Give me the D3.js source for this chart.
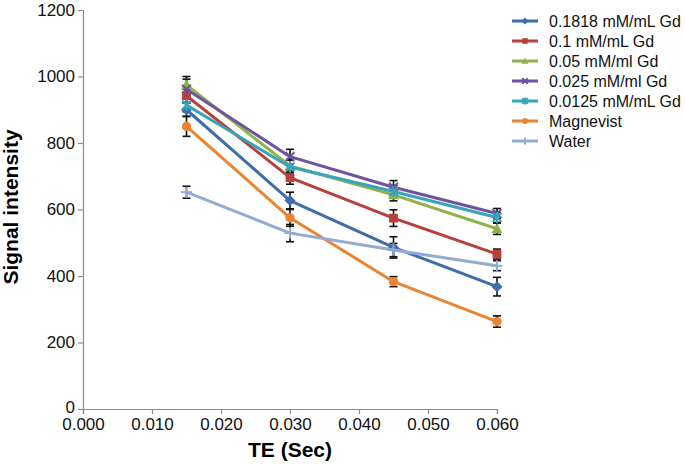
<!DOCTYPE html>
<html>
<head>
<meta charset="utf-8">
<script src="https://cdn.jsdelivr.net/npm/d3@7"></script>
<style>
  body { margin: 0; background: #fff; }
  text { font-family: "Liberation Sans", Arial, sans-serif; }
</style>
</head>
<body>
<div id="chart"></div>
<script>
// x values (TE, sec)
const teValues = [0.015, 0.030, 0.045, 0.060];

const seriesNames = ["0.1818 mM/mL Gd", "0.1 mM/mL Gd", "0.05 mM/ml Gd", "0.025 mM/ml Gd", "0.0125 mM/mL Gd", "Magnevist", "Water"];

// signal intensity
const gd01818 = [900, 627, 486, 368];
const gd01 = [942, 696, 574, 466];
const gd005 = [975, 731, 644, 542];
const gd0025 = [962, 759, 667, 588];
const gd00125 = [914, 728, 654, 576];
const magnevist = [850, 575, 383, 263];
const water = [652, 529, 478, 431];

// error bar half-widths
const err01818 = [20, 25, 32, 28];
const err01 = [20, 20, 25, 15];
const err005 = [25, 20, 18, 17];
const err0025 = [30, 22, 20, 15];
const err00125 = [20, 20, 18, 15];
const errMagnevist = [30, 25, 15, 17];
const errWater = [18, 26, 20, 15];

const xTicks = [0, 0.01, 0.02, 0.03, 0.04, 0.05, 0.06];
const yTicks = [0, 200, 400, 600, 800, 1000, 1200];

const colors = ["#3d6eaa", "#b8403c", "#8db34a", "#6f52a0", "#38a4bb", "#ea8430", "#92abd2"];
const markers = ["diamond", "square", "triangle", "cross", "asterisk", "circle", "plus"];

const values = [gd01818, gd01, gd005, gd0025, gd00125, magnevist, water];
const errors = [err01818, err01, err005, err0025, err00125, errMagnevist, errWater];

const series = seriesNames.map((name, i) => ({
    name: name,
    color: colors[i],
    marker: markers[i],
    points: teValues.map((t, j) => ({ x: t, y: values[i][j], e: errors[i][j] }))
}));

const width = 685, height = 465;

const svg = d3.select("#chart").append("svg")
    .attr("width", width)
    .attr("height", height);

const x = d3.scaleLinear().domain([0, 0.06]).range([83, 497]);
const y = d3.scaleLinear().domain([0, 1200]).range([409, 10]);

// axes
const xAxis = svg.append("g")
    .attr("transform", "translate(0," + y(0) + ")")
    .call(d3.axisBottom(x).tickValues(xTicks).tickFormat(d3.format(".3f")).tickSize(5).tickPadding(4));

const yAxis = svg.append("g")
    .attr("transform", "translate(" + x(0) + ",0)")
    .call(d3.axisLeft(y).tickValues(yTicks).tickFormat(d3.format("d")).tickSize(5).tickPadding(3));

[xAxis, yAxis].forEach(a => {
    a.selectAll("path, line").attr("stroke", "#8c8c8c").attr("stroke-width", 1.2);
    a.selectAll("text").attr("fill", "#111").style("font-size", "17px");
});
// nudge the "0" label up a bit so it clears "0.000"
yAxis.selectAll(".tick text").filter(d => d === 0).attr("dy", "0.2em");

// axis titles
svg.append("text")
    .attr("x", x(0.03)).attr("y", 457)
    .attr("text-anchor", "middle")
    .style("font-size", "21px").style("font-weight", "bold")
    .text("TE (Sec)");

svg.append("text")
    .attr("transform", "translate(18,207) rotate(-90)")
    .attr("text-anchor", "middle")
    .style("font-size", "21px").style("font-weight", "bold")
    .text("Signal intensity");

function drawMarker(g, type, color, size) {
    const s = size;
    if (type === "diamond") {
        g.append("path").attr("d", `M0,${-s}L${s},0L0,${s}L${-s},0Z`).attr("fill", color);
    } else if (type === "square") {
        g.append("rect").attr("x", -s * 0.8).attr("y", -s * 0.8).attr("width", s * 1.6).attr("height", s * 1.6).attr("fill", color);
    } else if (type === "triangle") {
        g.append("path").attr("d", `M0,${-s}L${s},${s * 0.8}L${-s},${s * 0.8}Z`).attr("fill", color);
    } else if (type === "circle") {
        g.append("circle").attr("r", s * 0.85).attr("fill", color);
    } else if (type === "cross") {
        g.append("path").attr("d", `M${-s * 0.8},${-s * 0.8}L${s * 0.8},${s * 0.8}M${s * 0.8},${-s * 0.8}L${-s * 0.8},${s * 0.8}`)
            .attr("stroke", color).attr("stroke-width", 2);
    } else if (type === "asterisk") {
        g.append("path").attr("d", `M${-s * 0.8},${-s * 0.8}L${s * 0.8},${s * 0.8}M${s * 0.8},${-s * 0.8}L${-s * 0.8},${s * 0.8}M0,${-s}L0,${s}`)
            .attr("stroke", color).attr("stroke-width", 2);
    } else if (type === "plus") {
        g.append("path").attr("d", `M${-s},0L${s},0M0,${-s}L0,${s}`)
            .attr("stroke", color).attr("stroke-width", 2);
    }
}

const line = d3.line().x(d => x(d.x)).y(d => y(d.y));

// error bars
const errG = svg.append("g");
series.forEach(s => {
    s.points.forEach(p => {
        const g = errG.append("g").attr("stroke", "#111").attr("stroke-width", 1.6);
        g.append("line").attr("x1", x(p.x)).attr("x2", x(p.x)).attr("y1", y(p.y - p.e)).attr("y2", y(p.y + p.e));
        g.append("line").attr("x1", x(p.x) - 4).attr("x2", x(p.x) + 4).attr("y1", y(p.y - p.e)).attr("y2", y(p.y - p.e));
        g.append("line").attr("x1", x(p.x) - 4).attr("x2", x(p.x) + 4).attr("y1", y(p.y + p.e)).attr("y2", y(p.y + p.e));
    });
});

// lines + markers
series.forEach(s => {
    svg.append("path")
        .datum(s.points)
        .attr("fill", "none")
        .attr("stroke", s.color)
        .attr("stroke-width", 3)
        .attr("stroke-linejoin", "round")
        .attr("d", line);
    s.points.forEach(p => {
        const g = svg.append("g").attr("transform", `translate(${x(p.x)},${y(p.y)})`);
        drawMarker(g, s.marker, s.color, 5.5);
    });
});

// legend
const legend = svg.append("g");
series.forEach((s, i) => {
    const ly = 21 + i * 20;
    const g = legend.append("g").attr("transform", `translate(0,${ly})`);
    g.append("line").attr("x1", 512).attr("x2", 538).attr("y1", 0).attr("y2", 0)
        .attr("stroke", s.color).attr("stroke-width", 3);
    const m = g.append("g").attr("transform", "translate(525,0)");
    drawMarker(m, s.marker, s.color, 3.5);
    g.append("text").attr("x", 549).attr("y", 0).attr("dy", "0.35em")
        .style("font-size", "16px").attr("fill", "#111")
        .text(s.name);
});
</script>
</body>
</html>
